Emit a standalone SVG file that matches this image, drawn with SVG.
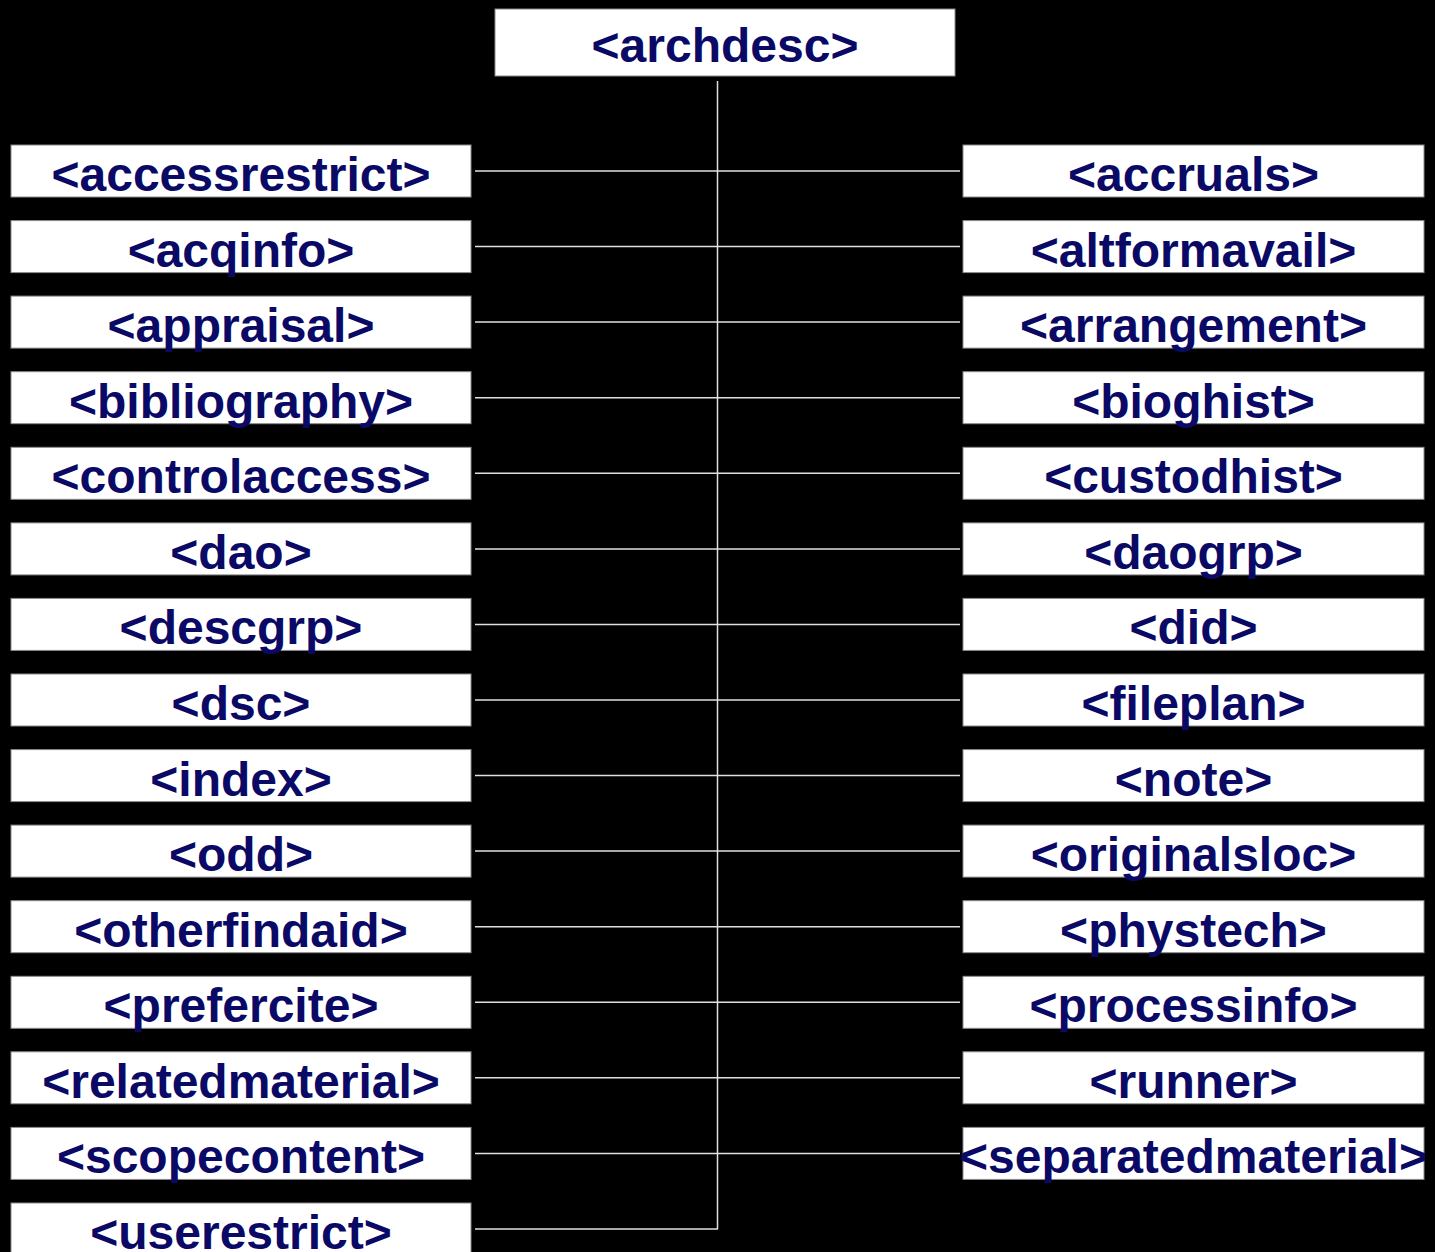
<svg xmlns="http://www.w3.org/2000/svg" width="1435" height="1252" viewBox="0 0 1435 1252">
<style>
.bx{fill:#ffffff;stroke:#8a8a8a;stroke-width:1}
.t{font-family:"Liberation Sans",Arial,sans-serif;font-weight:bold;font-size:48px;fill:#0a0a66;text-anchor:middle}
.c{stroke:#e0e0e0;stroke-width:1.5;fill:none}
</style>
<rect width="1435" height="1252" fill="#000000"/>
<g id="connectors">
<line class="c" x1="717.5" y1="81" x2="717.5" y2="1229"/>
<line class="c" x1="475" y1="171" x2="960" y2="171"/>
<line class="c" x1="475" y1="246.6" x2="960" y2="246.6"/>
<line class="c" x1="475" y1="322.1" x2="960" y2="322.1"/>
<line class="c" x1="475" y1="397.7" x2="960" y2="397.7"/>
<line class="c" x1="475" y1="473.3" x2="960" y2="473.3"/>
<line class="c" x1="475" y1="548.9" x2="960" y2="548.9"/>
<line class="c" x1="475" y1="624.4" x2="960" y2="624.4"/>
<line class="c" x1="475" y1="700" x2="960" y2="700"/>
<line class="c" x1="475" y1="775.6" x2="960" y2="775.6"/>
<line class="c" x1="475" y1="851.1" x2="960" y2="851.1"/>
<line class="c" x1="475" y1="926.7" x2="960" y2="926.7"/>
<line class="c" x1="475" y1="1002.3" x2="960" y2="1002.3"/>
<line class="c" x1="475" y1="1077.8" x2="960" y2="1077.8"/>
<line class="c" x1="475" y1="1153.4" x2="960" y2="1153.4"/>
<line class="c" x1="475" y1="1229" x2="718" y2="1229"/>
</g>
<g id="archdesc"><rect class="bx" x="495" y="9" width="460" height="67"/><text class="t" x="725" y="62">&lt;archdesc&gt;</text></g>
<g id="accessrestrict"><rect class="bx" x="11" y="145" width="460" height="52"/><text class="t" x="241" y="191">&lt;accessrestrict&gt;</text></g>
<g id="acqinfo"><rect class="bx" x="11" y="220.6" width="460" height="52"/><text class="t" x="241" y="266.6">&lt;acqinfo&gt;</text></g>
<g id="appraisal"><rect class="bx" x="11" y="296.1" width="460" height="52"/><text class="t" x="241" y="342.1">&lt;appraisal&gt;</text></g>
<g id="bibliography"><rect class="bx" x="11" y="371.7" width="460" height="52"/><text class="t" x="241" y="417.7">&lt;bibliography&gt;</text></g>
<g id="controlaccess"><rect class="bx" x="11" y="447.3" width="460" height="52"/><text class="t" x="241" y="493.3">&lt;controlaccess&gt;</text></g>
<g id="dao"><rect class="bx" x="11" y="522.9" width="460" height="52"/><text class="t" x="241" y="568.9">&lt;dao&gt;</text></g>
<g id="descgrp"><rect class="bx" x="11" y="598.4" width="460" height="52"/><text class="t" x="241" y="644.4">&lt;descgrp&gt;</text></g>
<g id="dsc"><rect class="bx" x="11" y="674" width="460" height="52"/><text class="t" x="241" y="720">&lt;dsc&gt;</text></g>
<g id="index"><rect class="bx" x="11" y="749.6" width="460" height="52"/><text class="t" x="241" y="795.6">&lt;index&gt;</text></g>
<g id="odd"><rect class="bx" x="11" y="825.1" width="460" height="52"/><text class="t" x="241" y="871.1">&lt;odd&gt;</text></g>
<g id="otherfindaid"><rect class="bx" x="11" y="900.7" width="460" height="52"/><text class="t" x="241" y="946.7">&lt;otherfindaid&gt;</text></g>
<g id="prefercite"><rect class="bx" x="11" y="976.3" width="460" height="52"/><text class="t" x="241" y="1022.3">&lt;prefercite&gt;</text></g>
<g id="relatedmaterial"><rect class="bx" x="11" y="1051.8" width="460" height="52"/><text class="t" x="241" y="1097.8">&lt;relatedmaterial&gt;</text></g>
<g id="scopecontent"><rect class="bx" x="11" y="1127.4" width="460" height="52"/><text class="t" x="241" y="1173.4">&lt;scopecontent&gt;</text></g>
<g id="userestrict"><rect class="bx" x="11" y="1203" width="460" height="60"/><text class="t" x="241" y="1249">&lt;userestrict&gt;</text></g>
<g id="accruals"><rect class="bx" x="963" y="145" width="461" height="52"/><text class="t" x="1193.5" y="191">&lt;accruals&gt;</text></g>
<g id="altformavail"><rect class="bx" x="963" y="220.6" width="461" height="52"/><text class="t" x="1193.5" y="266.6">&lt;altformavail&gt;</text></g>
<g id="arrangement"><rect class="bx" x="963" y="296.1" width="461" height="52"/><text class="t" x="1193.5" y="342.1">&lt;arrangement&gt;</text></g>
<g id="bioghist"><rect class="bx" x="963" y="371.7" width="461" height="52"/><text class="t" x="1193.5" y="417.7">&lt;bioghist&gt;</text></g>
<g id="custodhist"><rect class="bx" x="963" y="447.3" width="461" height="52"/><text class="t" x="1193.5" y="493.3">&lt;custodhist&gt;</text></g>
<g id="daogrp"><rect class="bx" x="963" y="522.9" width="461" height="52"/><text class="t" x="1193.5" y="568.9">&lt;daogrp&gt;</text></g>
<g id="did"><rect class="bx" x="963" y="598.4" width="461" height="52"/><text class="t" x="1193.5" y="644.4">&lt;did&gt;</text></g>
<g id="fileplan"><rect class="bx" x="963" y="674" width="461" height="52"/><text class="t" x="1193.5" y="720">&lt;fileplan&gt;</text></g>
<g id="note"><rect class="bx" x="963" y="749.6" width="461" height="52"/><text class="t" x="1193.5" y="795.6">&lt;note&gt;</text></g>
<g id="originalsloc"><rect class="bx" x="963" y="825.1" width="461" height="52"/><text class="t" x="1193.5" y="871.1">&lt;originalsloc&gt;</text></g>
<g id="phystech"><rect class="bx" x="963" y="900.7" width="461" height="52"/><text class="t" x="1193.5" y="946.7">&lt;phystech&gt;</text></g>
<g id="processinfo"><rect class="bx" x="963" y="976.3" width="461" height="52"/><text class="t" x="1193.5" y="1022.3">&lt;processinfo&gt;</text></g>
<g id="runner"><rect class="bx" x="963" y="1051.8" width="461" height="52"/><text class="t" x="1193.5" y="1097.8">&lt;runner&gt;</text></g>
<g id="separatedmaterial"><rect class="bx" x="963" y="1127.4" width="461" height="52"/><text class="t" x="1193.5" y="1173.4">&lt;separatedmaterial&gt;</text></g>
</svg>
